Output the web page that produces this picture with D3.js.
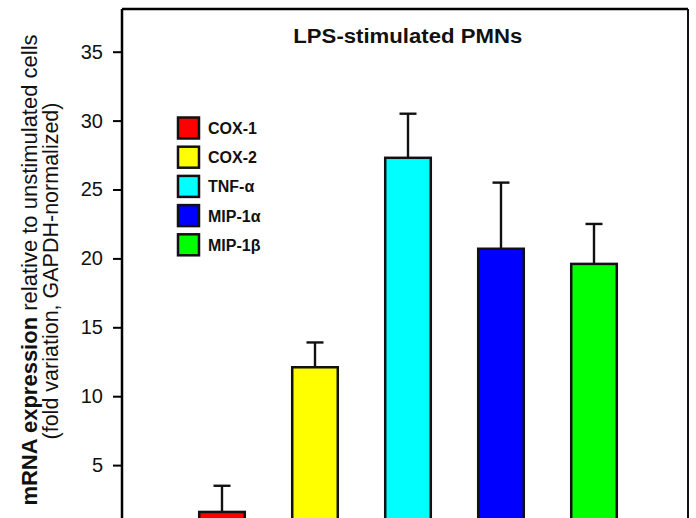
<!DOCTYPE html>
<html>
<head>
<meta charset="utf-8">
<script src="https://cdn.jsdelivr.net/npm/d3@7"></script>
<style>
  body { margin: 0; background: #fff; }
  svg { display: block; font-family: "Liberation Sans", Arial, Helvetica, sans-serif; }
</style>
</head>
<body>
<svg id="canvas" width="696" height="518"></svg>
<script>
// values (fold variation)
let genes = ["COX-1", "COX-2", "TNF-\u03b1", "MIP-1\u03b1", "MIP-1\u03b2"];
let means = [1.6, 12.1, 27.3, 20.7, 19.6];
let errors = [1.9, 1.8, 3.2, 4.8, 2.9];
let colors = ["#ff0000", "#ffff00", "#00ffff", "#0000ff", "#00ff00"];
let yTicks = [5, 10, 15, 20, 25, 30, 35];

let canvas = d3.select("#canvas");

let plotLeft = 122, plotRight = 688, plotTop = 9;

// y = 0 sits below the visible area (the figure is cropped at the bottom)
let yScale = d3.scaleLinear().domain([0, 35]).range([534, 51.7]);

let xScale = d3
  .scaleBand()
  .domain(genes)
  .range([175.5, 640.5])
  .paddingInner(0.51)
  .paddingOuter(0.255);

// frame
canvas
  .append("line")
  .attr("x1", plotLeft).attr("x2", plotRight)
  .attr("y1", plotTop).attr("y2", plotTop)
  .attr("stroke", "#000").attr("stroke-width", 2.5);
canvas
  .append("line")
  .attr("x1", plotRight).attr("x2", plotRight)
  .attr("y1", plotTop).attr("y2", 540)
  .attr("stroke", "#111").attr("stroke-width", 2);

// y axis
let yAxis = d3
  .axisLeft(yScale)
  .tickValues(yTicks)
  .tickSize(9)
  .tickPadding(10);

let axisG = canvas
  .append("g")
  .attr("transform", "translate(" + plotLeft + ",0)")
  .call(yAxis);

axisG.select(".domain")
  .attr("d", "M0," + plotTop + "V540")
  .attr("stroke", "#000")
  .attr("stroke-width", 2.5);
axisG.selectAll(".tick line").attr("stroke", "#000").attr("stroke-width", 2);
axisG.selectAll(".tick text")
  .attr("font-size", "20px")
  .attr("fill", "#111")
  .attr("font-family", "Liberation Sans, Arial, sans-serif");

// y label
let yLabel = canvas
  .append("text")
  .attr("transform", "translate(37,270) rotate(-90)")
  .attr("text-anchor", "middle")
  .attr("font-size", "22px")
  .attr("fill", "#111");
yLabel.append("tspan").attr("font-weight", "bold").text("mRNA expression");
yLabel.append("tspan").text(" relative to unstimulated cells");

canvas
  .append("text")
  .attr("transform", "translate(58,271) rotate(-90)")
  .attr("text-anchor", "middle")
  .attr("font-size", "21.5px")
  .attr("fill", "#111")
  .text("(fold variation, GAPDH-normalized)");

// title
canvas
  .append("text")
  .attr("x", 407.8)
  .attr("y", 43)
  .attr("text-anchor", "middle")
  .attr("font-size", "20px")
  .attr("font-weight", "bold")
  .attr("fill", "#111")
  .attr("textLength", 229)
  .attr("lengthAdjust", "spacingAndGlyphs")
  .text("LPS-stimulated PMNs");

let data = genes.map((g, i) => {
  return { gene: g, mean: means[i], err: errors[i], color: colors[i] };
});

// error bars (upper only)
let errG = canvas.append("g");
errG
  .selectAll("line.stem")
  .data(data)
  .enter()
  .append("line")
  .attr("class", "stem")
  .attr("x1", (d) => xScale(d.gene) + xScale.bandwidth() / 2)
  .attr("x2", (d) => xScale(d.gene) + xScale.bandwidth() / 2)
  .attr("y1", (d) => yScale(d.mean))
  .attr("y2", (d) => yScale(d.mean + d.err))
  .attr("stroke", "#111")
  .attr("stroke-width", 2.4);
errG
  .selectAll("line.cap")
  .data(data)
  .enter()
  .append("line")
  .attr("class", "cap")
  .attr("x1", (d) => xScale(d.gene) + xScale.bandwidth() / 2 - 8.5)
  .attr("x2", (d) => xScale(d.gene) + xScale.bandwidth() / 2 + 8.5)
  .attr("y1", (d) => yScale(d.mean + d.err))
  .attr("y2", (d) => yScale(d.mean + d.err))
  .attr("stroke", "#111")
  .attr("stroke-width", 2.4);

// bars
canvas
  .append("g")
  .selectAll("rect")
  .data(data)
  .enter()
  .append("rect")
  .attr("x", (d) => xScale(d.gene))
  .attr("width", xScale.bandwidth())
  .attr("y", (d) => yScale(d.mean))
  .attr("height", (d) => yScale(0) - yScale(d.mean))
  .attr("fill", (d) => d.color)
  .attr("stroke", "#111")
  .attr("stroke-width", 2.5);

// legend
let legend = canvas
  .append("g")
  .selectAll("g")
  .data(data)
  .enter()
  .append("g")
  .attr("transform", (d, i) => "translate(178," + (117.5 + i * 29.2) + ")");

legend
  .append("rect")
  .attr("width", 21)
  .attr("height", 21)
  .attr("fill", (d) => d.color)
  .attr("stroke", "#111")
  .attr("stroke-width", 2.5);

legend
  .append("text")
  .attr("x", 30)
  .attr("y", 16.5)
  .attr("font-size", "16px")
  .attr("font-weight", "bold")
  .attr("fill", "#111")
  .text((d) => d.gene);
</script>
</body>
</html>
